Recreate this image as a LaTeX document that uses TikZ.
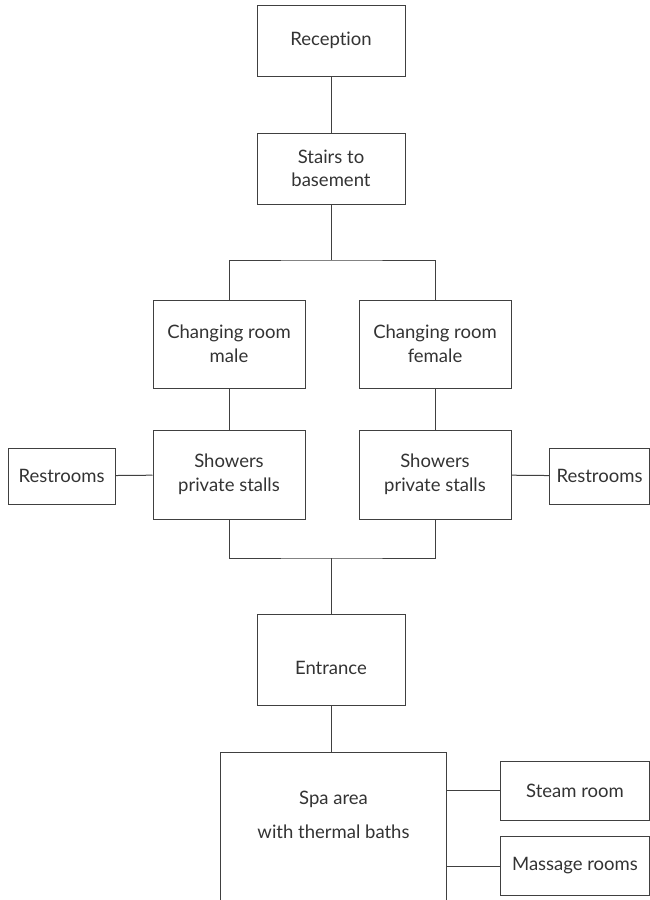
\documentclass[tikz,border=0pt]{standalone}
\usepackage{fontspec}
\setmainfont{Lato}[Ligatures={NoCommon,NoRare,NoContextual}]
\begin{document}
\begin{tikzpicture}[x=1pt,y=-1pt,
  every node/.style={font=\fontsize{18.5}{23.5}\selectfont, text=black!80},
  room/.style={draw=black!75, line width=1pt, align=center, inner sep=0pt},
  link/.style={draw=black!75, line width=1pt}]
\useasboundingbox (0,0) rectangle (650,900);
\begin{scope}
\clip (0,0) rectangle (650,900);
% upper chain
\node[room, minimum width=148, minimum height=71] (rec) at (331,40.5) {Reception};
\node[room, minimum width=148, minimum height=71] (stairs) at (331,168.5) {Stairs to\\basement};
% changing rooms and showers
\node[room, minimum width=152, minimum height=88] (cm) at (229,344) {Changing room\\male};
\node[room, minimum width=152, minimum height=88] (cf) at (435,344) {Changing room\\female};
\node[room, minimum width=152, minimum height=89] (sm) at (229,474.5) {Showers\\private stalls};
\node[room, minimum width=152, minimum height=89] (sf) at (435,474.5) {Showers\\private stalls};
\node[room, minimum width=107, minimum height=56] (rl) at (61.5,476) {Restrooms};
\node[room, minimum width=100, minimum height=56] (rr) at (599.5,476) {Restrooms};
% entrance and spa
\node[room, minimum width=148, minimum height=91, text height=30pt, text depth=0pt] (ent) at (331,659.5) {Entrance};
\node[room, minimum width=226, minimum height=170] (spa) at (333.5,837) {};
\node[align=center, font=\fontsize{18.5}{34}\selectfont, text=black!80] (spatext) at (333.5,815) {Spa area\\with thermal baths};
\node[room, minimum width=149, minimum height=59] (steam) at (575,790.5) {Steam room};
\node[room, minimum width=149, minimum height=59] (massage) at (575,866) {Massage rooms};
% branch points
\coordinate (split) at (331,260);
\coordinate (join) at (331,558);
% connectors
\draw[link] (rec) -- (stairs);
\draw[link] (stairs) -- (split);
\draw[link] (cm.north) |- (split) -| (cf.north);
\draw[link] (cm) -- (sm);
\draw[link] (cf) -- (sf);
\draw[link] (rl) -- (sm);
\draw[link] (sf) -- (rr);
\draw[link] (sm.south) |- (join) -| (sf.south);
\draw[link] (join) -- (ent);
\draw[link] (ent.south) -- (ent.south |- spa.north);
\draw[link] (spa.east |- steam) -- (steam);
\draw[link] (spa.east |- massage) -- (massage);
\end{scope}
\end{tikzpicture}
\end{document}
